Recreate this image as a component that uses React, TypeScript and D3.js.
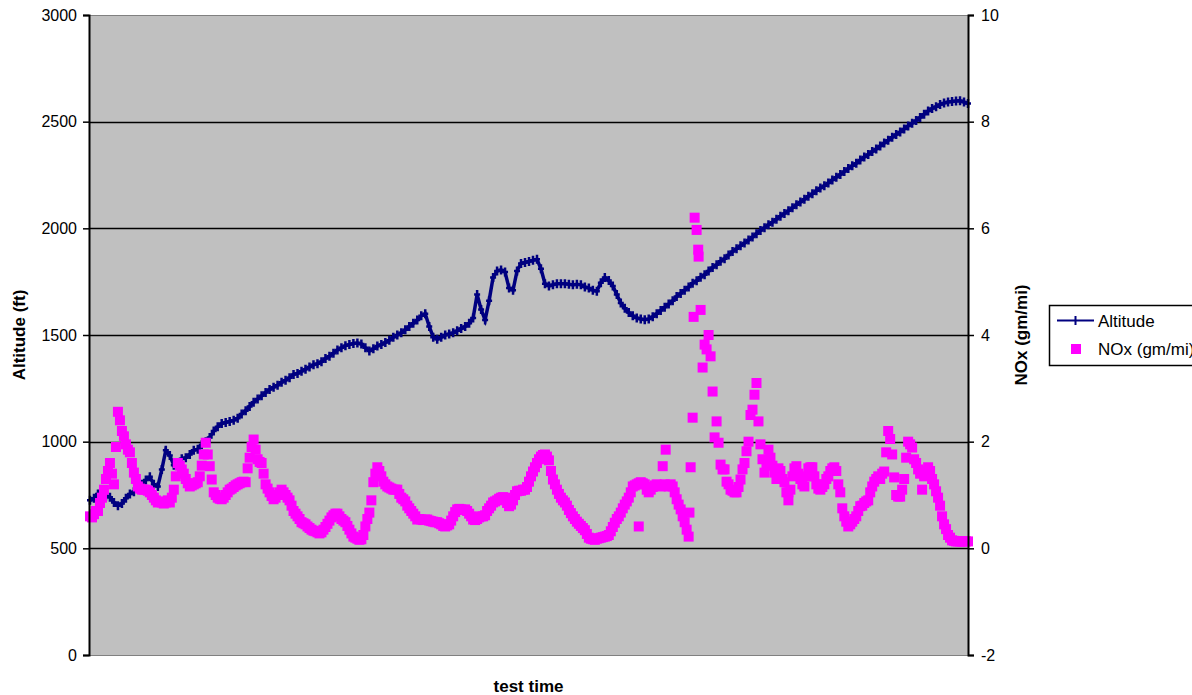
import React, { useEffect, useRef } from 'react';
import * as d3 from 'd3';

// altitude readings (ft), one per sample of test time
const altitude = [
  725, 735, 755, 760, 745, 740, 715, 700, 710, 735,
  755, 765, 780, 800, 820, 835, 800, 790, 870, 960,
  935, 890, 900, 920, 925, 940, 960, 965, 985, 1000,
  1020, 1050, 1070, 1085, 1090, 1095, 1100, 1110, 1130, 1145,
  1165, 1185, 1200, 1215, 1230, 1245, 1255, 1265, 1278, 1288,
  1300, 1315, 1320, 1330, 1340, 1350, 1360, 1365, 1375, 1390,
  1400, 1415, 1430, 1440, 1450, 1455, 1460, 1462, 1458, 1440,
  1425, 1435, 1448, 1455, 1465, 1475, 1490, 1500, 1510, 1525,
  1540, 1555, 1570, 1590, 1600, 1540, 1490, 1480, 1490, 1500,
  1505, 1510, 1520, 1530, 1540, 1555, 1580, 1690, 1620, 1570,
  1660, 1770, 1800, 1805, 1795, 1720, 1710, 1800, 1835, 1840,
  1845, 1850, 1855, 1810, 1740, 1730, 1735, 1740, 1740, 1740,
  1738, 1735, 1738, 1735, 1725, 1720, 1710, 1705, 1745, 1770,
  1755, 1730, 1690, 1650, 1625, 1605, 1590, 1580, 1575, 1572,
  1575, 1585, 1600, 1615, 1630, 1645, 1660, 1680, 1695, 1710,
  1725, 1742, 1754, 1771, 1783, 1800, 1816, 1829, 1846, 1858,
  1875, 1891, 1904, 1918, 1931, 1945, 1959, 1975, 1990, 2003,
  2017, 2029, 2043, 2057, 2070, 2082, 2096, 2111, 2123, 2136,
  2150, 2162, 2176, 2189, 2200, 2213, 2227, 2240, 2252, 2266,
  2280, 2293, 2305, 2320, 2334, 2346, 2360, 2372, 2386, 2400,
  2413, 2427, 2440, 2452, 2466, 2480, 2493, 2505, 2520, 2535,
  2550, 2562, 2570, 2580, 2587, 2592, 2595, 2597, 2598, 2592,
  2585,
];

// NOx readings (gm/mi) at the same samples
const nox = [
  0.6, 0.64, 0.7, 0.95, 1.3, 1.6, 1.2, 2.56, 2.2, 1.95,
  1.8, 1.42, 1.16, 1.1, 1.1, 1.05, 0.95, 0.86, 0.86, 0.86,
  0.86, 1.1, 1.6, 1.48, 1.3, 1.16, 1.2, 1.24, 1.55, 1.98,
  1.54, 1.05, 0.95, 0.92, 1.0, 1.1, 1.15, 1.2, 1.24, 1.24,
  1.7, 2.04, 1.67, 1.6, 1.2, 1.05, 0.92, 1.0, 1.1, 1.0,
  0.9, 0.7, 0.6, 0.49, 0.45, 0.38, 0.33, 0.3, 0.3, 0.4,
  0.52, 0.62, 0.65, 0.55, 0.49, 0.35, 0.22, 0.18, 0.17, 0.41,
  0.67, 1.24, 1.52, 1.35, 1.2, 1.14, 1.1, 1.1, 0.95, 0.88,
  0.75, 0.65, 0.54, 0.54, 0.54, 0.52, 0.5, 0.49, 0.45, 0.41,
  0.45, 0.6, 0.73, 0.73, 0.73, 0.65, 0.54, 0.55, 0.6, 0.62,
  0.75, 0.86, 0.9, 0.95, 0.95, 0.79, 0.9, 1.07, 1.08, 1.1,
  1.25, 1.44, 1.6, 1.72, 1.76, 1.65, 1.29, 1.1, 0.95, 0.86,
  0.72, 0.6, 0.5, 0.42, 0.34, 0.2, 0.17, 0.18, 0.2, 0.22,
  0.25, 0.4, 0.55, 0.67, 0.82, 0.95, 1.16, 1.2, 1.24, 1.2,
  1.05, 1.15, 1.2, 1.16, 1.2, 1.16, 1.16, 0.92, 0.73, 0.49,
  0.22, 2.45, 5.97, 4.47, 3.82, 4.0, 2.94, 2.38, 1.57, 1.48,
  1.2, 1.08, 1.05, 1.29, 1.6, 2.0, 2.6, 3.1, 1.95, 1.42,
  1.85, 1.55, 1.3, 1.45, 1.24, 0.9, 1.35, 1.54, 1.3, 1.16,
  1.5, 1.52, 1.2, 1.1, 1.2, 1.35, 1.5, 1.45, 1.05, 0.6,
  0.41, 0.5, 0.6, 0.79, 0.85, 0.9, 1.16, 1.3, 1.3, 1.44,
  2.2, 1.76, 1.0, 0.97, 1.3, 2.0, 1.89, 1.6, 1.4, 1.35,
  1.52, 1.3, 1.07, 0.8, 0.45, 0.25, 0.15, 0.13, 0.13, 0.13,
  0.13,
];

// NOx readings half way between the samples above
const noxHalf = [
  0.58, 0.7, 0.85, 1.1, 1.45, 1.4, 1.9, 2.4, 2.1, 1.85,
  1.6, 1.3, 1.12, 1.1, 1.08, 1.0, 0.9, 0.88, 0.84, 0.9,
  0.95, 1.35, 1.55, 1.4, 1.22, 1.18, 1.22, 1.35, 1.76, 1.76,
  1.29, 1.0, 0.93, 0.95, 1.05, 1.12, 1.18, 1.22, 1.25, 1.5,
  1.9, 1.85, 1.62, 1.4, 1.12, 0.98, 0.95, 1.05, 1.05, 0.95,
  0.8, 0.65, 0.55, 0.47, 0.41, 0.35, 0.32, 0.28, 0.35, 0.46,
  0.58, 0.65, 0.6, 0.52, 0.42, 0.28, 0.2, 0.16, 0.25, 0.55,
  0.9, 1.4, 1.45, 1.25, 1.16, 1.12, 1.1, 1.02, 0.92, 0.8,
  0.7, 0.6, 0.55, 0.53, 0.54, 0.51, 0.49, 0.47, 0.42, 0.43,
  0.52, 0.68, 0.74, 0.72, 0.7, 0.6, 0.53, 0.58, 0.6, 0.7,
  0.8, 0.88, 0.93, 0.96, 0.85, 0.82, 1.0, 1.08, 1.1, 1.15,
  1.35, 1.52, 1.67, 1.75, 1.72, 1.45, 1.2, 1.02, 0.9, 0.8,
  0.66, 0.55, 0.46, 0.38, 0.27, 0.18, 0.16, 0.19, 0.21, 0.23,
  0.32, 0.48, 0.6, 0.75, 0.88, 1.05, 1.18, 1.22, 1.22, 1.1,
  1.1, 1.18, 1.18, 1.18, 1.17, 1.2, 1.05, 0.82, 0.6, 0.35,
  1.52, 6.2, 5.47, 3.39, 3.73, 3.6, 2.08, 1.98, 1.48, 1.25,
  1.1, 1.05, 1.15, 1.48, 1.82, 2.5, 2.88, 2.38, 1.67, 1.6,
  1.7, 1.42, 1.5, 1.3, 1.05, 1.1, 1.5, 1.4, 1.2, 1.35,
  1.52, 1.35, 1.12, 1.15, 1.3, 1.45, 1.52, 1.2, 0.75, 0.5,
  0.45, 0.55, 0.7, 0.8, 0.88, 1.05, 1.25, 1.35, 1.4, 1.8,
  2.05, 1.33, 0.97, 1.1, 1.7, 1.95, 1.67, 1.48, 1.1, 1.45,
  1.45, 1.2, 0.95, 0.6, 0.36, 0.2, 0.14, 0.13, 0.13, 0.13,
];

// stray NOx readings (sample position, value)
const noxStrayTime = [137.5, 143.5, 144.25, 150.2, 151.25, 152.4, 175];
const noxStray = [0.41, 1.54, 1.85, 0.67, 4.34, 5.6, 1.05];

const altTicks = [0, 500, 1000, 1500, 2000, 2500, 3000];
const noxTicks = [-2, 0, 2, 4, 6, 8, 10];

const NAVY = '#000080';
const MAGENTA = '#FF00FF';
const FONT = '"Liberation Sans", Arial, sans-serif';

const App: React.FC = () => {
  const ref = useRef<SVGSVGElement | null>(null);

  useEffect(() => {
    if (!ref.current) return;
    const width = 1192;
    const height = 695;
    const plot = { left: 89, right: 968, top: 15, bottom: 655 };

    const svg = d3.select(ref.current);
    svg.selectAll('*').remove();
    svg.attr('width', width).attr('height', height);

    const x = d3.scaleLinear().domain([0, altitude.length - 1]).range([90, 968]);
    const yAlt = d3.scaleLinear().domain([0, 3000]).range([plot.bottom, plot.top]);
    const yNox = d3.scaleLinear().domain([-2, 10]).range([plot.bottom, plot.top]);

    svg.append('rect')
      .attr('x', plot.left).attr('y', plot.top)
      .attr('width', plot.right - plot.left).attr('height', plot.bottom - plot.top)
      .attr('fill', '#C0C0C0');

    [plot.top, plot.bottom].forEach(yy => {
      svg.append('line')
        .attr('x1', plot.left).attr('x2', plot.right)
        .attr('y1', yy + 0.5).attr('y2', yy + 0.5)
        .attr('stroke', '#808080');
    });

    svg.append('g')
      .selectAll('line')
      .data(altTicks.filter(v => v > 0 && v < 3000))
      .enter().append('line')
      .attr('x1', plot.left).attr('x2', plot.right)
      .attr('y1', d => Math.round(yAlt(d)) + 0.5)
      .attr('y2', d => Math.round(yAlt(d)) + 0.5)
      .attr('stroke', '#000')
      .attr('stroke-width', 1.6);

    // altitude line with + markers
    const line = d3.line<number>()
      .x((d, i) => x(i))
      .y(d => yAlt(d));

    svg.append('path')
      .datum(altitude)
      .attr('d', line)
      .attr('fill', 'none')
      .attr('stroke', NAVY)
      .attr('stroke-width', 3.5);

    svg.append('g')
      .selectAll('path')
      .data(altitude)
      .enter().append('path')
      .attr('d', (d, i) => {
        const cx = x(i);
        const cy = yAlt(d);
        return `M${cx},${cy - 4.5}V${cy + 4.5}M${cx - 3},${cy}H${cx + 3}`;
      })
      .attr('stroke', NAVY)
      .attr('stroke-width', 2.5);

    // NOx squares
    const sq = 10;
    const noxPts = nox.map((v, i) => ({ t: i, v }))
      .concat(noxHalf.map((v, i) => ({ t: i + 0.5, v })))
      .concat(noxStray.map((v, i) => ({ t: noxStrayTime[i], v })));

    svg.append('g')
      .selectAll('rect')
      .data(noxPts)
      .enter().append('rect')
      .attr('x', d => x(d.t) - sq / 2)
      .attr('y', d => yNox(d.v) - sq / 2)
      .attr('width', sq)
      .attr('height', sq)
      .attr('fill', MAGENTA);

    // axes
    const fmt = (d: d3.NumberValue) => String(d);
    const left = svg.append('g')
      .attr('transform', `translate(${plot.left},0)`)
      .call(d3.axisLeft(yAlt).tickValues(altTicks).tickFormat(fmt).tickSize(6).tickPadding(6));
    const right = svg.append('g')
      .attr('transform', `translate(${plot.right},0)`)
      .call(d3.axisRight(yNox).tickValues(noxTicks).tickFormat(fmt).tickSize(6).tickPadding(7));

    [left, right].forEach(g => {
      g.select('.domain').attr('stroke', '#000').attr('stroke-width', 2);
      g.selectAll('.tick line').attr('stroke', '#000').attr('stroke-width', 1.5);
      g.selectAll('.tick text')
        .attr('fill', '#000')
        .style('font-family', FONT)
        .style('font-size', '16px');
    });

    const title = (tx: string, transform: string) =>
      svg.append('text')
        .attr('transform', transform)
        .attr('text-anchor', 'middle')
        .style('font-family', FONT)
        .style('font-size', '17px')
        .style('font-weight', 'bold')
        .text(tx);

    const midY = (plot.top + plot.bottom) / 2;
    title('Altitude (ft)', `translate(25,${midY}) rotate(-90)`);
    title('NOx (gm/mi)', `translate(1027,${midY}) rotate(-90)`);
    title('test time', `translate(${(plot.left + plot.right) / 2},692)`);

    // legend
    const lg = svg.append('g');
    lg.append('rect')
      .attr('x', 1049.5).attr('y', 305.5)
      .attr('width', 200).attr('height', 60)
      .attr('fill', '#fff')
      .attr('stroke', '#000')
      .attr('stroke-width', 1.5);
    lg.append('path')
      .attr('d', 'M1057,320.5H1094M1075.5,316V325')
      .attr('stroke', NAVY)
      .attr('stroke-width', 2);
    lg.append('rect')
      .attr('x', 1071).attr('y', 344)
      .attr('width', 10).attr('height', 10)
      .attr('fill', MAGENTA);
    lg.append('text')
      .attr('x', 1098).attr('y', 327)
      .style('font-family', FONT)
      .style('font-size', '17px')
      .text('Altitude');
    lg.append('text')
      .attr('x', 1098).attr('y', 355)
      .style('font-family', FONT)
      .style('font-size', '17px')
      .text('NOx (gm/mi)');
  }, []);

  return (
    <svg ref={ref} style={{ position: 'absolute', left: 0, top: 0, background: '#fff' }} />
  );
};

export default App;
